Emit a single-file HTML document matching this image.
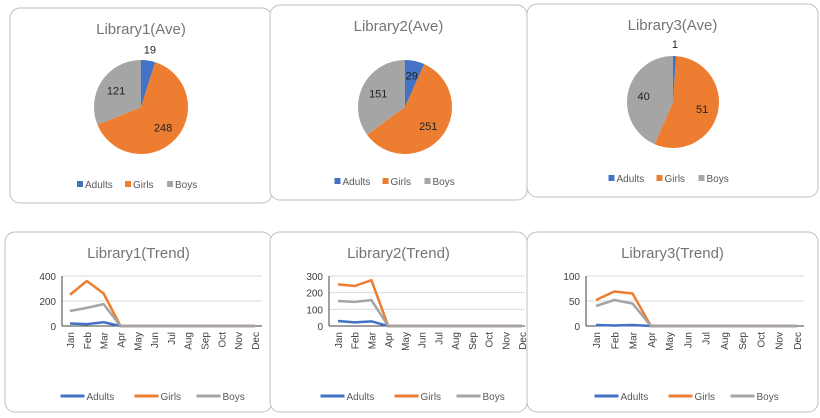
<!DOCTYPE html>
<html><head><meta charset="utf-8"><style>
body{margin:0;width:820px;height:418px;background:#fff;overflow:hidden;font-family:"Liberation Sans",Arial,sans-serif}
svg{position:absolute;left:0;top:0}
</style></head><body>
<svg id="s" width="820" height="418"></svg>
<script>
const pieCats=["Adults","Girls","Boys"];
const pie1=[19,248,121];
const pie2=[29,251,151];
const pie3=[1,51,40];
const months=["Jan","Feb","Mar","Apr","May","Jun","Jul","Aug","Sep","Oct","Nov","Dec"];
const l1Adults=[20,15,30,0,0,0,0,0,0,0,0,0];
const l1Girls=[250,360,260,0,0,0,0,0,0,0,0,0];
const l1Boys=[120,145,175,0,0,0,0,0,0,0,0,0];
const l2Adults=[30,22,28,0,0,0,0,0,0,0,0,0];
const l2Girls=[250,240,275,0,0,0,0,0,0,0,0,0];
const l2Boys=[150,145,155,0,0,0,0,0,0,0,0,0];
const l3Adults=[2,1,2,0,0,0,0,0,0,0,0,0];
const l3Girls=[52,69,65,0,0,0,0,0,0,0,0,0];
const l3Boys=[40,52,45,0,0,0,0,0,0,0,0,0];
const ticks1=[0,200,400],ticks2=[0,100,200,300],ticks3=[0,50,100];
const colors=["#4472c4","#ed7d31","#a5a5a5"];
const S=document.getElementById('s'),NS="http://www.w3.org/2000/svg";
function el(t,a,p){const e=document.createElementNS(NS,t);for(const k in a)e.setAttribute(k,a[k]);(p||S).appendChild(e);return e;}
function txt(x,y,s,a,p){const e=el('text',Object.assign({x:x,y:y},a),p);e.textContent=s;return e;}
function card(x,y,w,h,name){const g=el('g',{});
 el('rect',{x:x,y:y,width:w,height:h,rx:10,fill:'#fff',stroke:'#bfbfbf','stroke-width':1},g);return g;}
function pie(x,y,w,h,title,vals,cx,cy,r,labs){
 const g=card(x,y,w,h,title.toLowerCase().replace(/[()]/g,'-')+'chart');
 const t=txt(x+w/2,y+26,title,{'font-size':15,fill:'#757575','text-anchor':'middle'},g);
 const tot=vals.reduce((a,b)=>a+b,0);let a0=-Math.PI/2;
 vals.forEach((v,i)=>{const a1=a0+v/tot*2*Math.PI;
  const p=el('path',{d:`M${cx},${cy}L${cx+r*Math.cos(a0)},${cy+r*Math.sin(a0)}A${r},${r} 0 ${a1-a0>Math.PI?1:0} 1 ${cx+r*Math.cos(a1)},${cy+r*Math.sin(a1)}Z`,fill:colors[i]},g);
  
  const am=(a0+a1)/2,rr=labs[i];
  const l=txt(cx+rr*Math.cos(am),cy+rr*Math.sin(am)+4,String(v),{'font-size':11,fill:'#222','text-anchor':'middle'},g);
  
  a0=a1;});
 legend(g,x+w/2,y+h-18,false);
}
function legend(g,cx,ly,line){
 const widths=line?[64,52,52]:[48,42,38];const tw=widths.reduce((a,b)=>a+b,0)+ (line?0:0);
 let lx=cx-tw/2;
 pieCats.forEach((c,i)=>{const lg=el('g',{},g);
  if(line){el('line',{x1:lx,y1:ly,x2:lx+24,y2:ly,stroke:colors[i],'stroke-width':3},lg);txt(lx+26,ly+4,c,{'font-size':10,fill:'#595959'},lg);}
  else{el('rect',{x:lx,y:ly-4,width:6,height:6,fill:colors[i]},lg);txt(lx+8,ly+3,c,{'font-size':10,fill:'#595959'},lg);}
  lx+=widths[i]+(line?10:0);});
}
function trend(x,y,w,h,title,series,ticks,ax0,ax1,j0,j1,ymax){
 const g=card(x,y,w,h,title.toLowerCase().replace(/[()]/g,'-')+'chart');
 const t=txt(x+w/2,y+26,title,{'font-size':15,fill:'#757575','text-anchor':'middle'},g);
 const y0=326,y1=276;const sy=v=>y0-(v/ymax)*(y0-y1);const sx=i=>j0+i*(j1-j0)/11;
 ticks.forEach(v=>{if(v>0)el('line',{x1:ax0,y1:sy(v),x2:ax1,y2:sy(v),stroke:'#d9d9d9'},g);
  const l=txt(ax0-6,sy(v)+4,String(v),{'font-size':10,fill:'#404040','text-anchor':'end'},g);});
 el('line',{x1:ax0,y1:y1,x2:ax0,y2:y0,stroke:'#404040'},g);
 el('line',{x1:ax0,y1:y0,x2:ax1,y2:y0,stroke:'#404040'},g);
 months.forEach((m,i)=>{const l=txt(0,0,m,{'font-size':10,fill:'#404040','text-anchor':'end',transform:`translate(${sx(i)+4},${y0+6}) rotate(-90)`},g);});
 series.forEach((s,k)=>{const p=el('polyline',{points:s.map((v,i)=>sx(i)+','+sy(v)).join(' '),fill:'none',stroke:colors[k],'stroke-width':2.5,'stroke-linejoin':'round'},g);
  });
 legend(g,x+w/2+6,y+164,true);
}
pie(10,8,262,195,"Library1(Ave)",pie1,141,107,47,[58,30,30]);
pie(270,5,257,195,"Library2(Ave)",pie2,405,107,47,[32,30,30]);
pie(527,4,291,193,"Library3(Ave)",pie3,673,102,46,[58,30,30]);
trend(5,232,267,180,"Library1(Trend)",[l1Adults,l1Girls,l1Boys],ticks1,62,262,70,255,400);
trend(270,232,257,180,"Library2(Trend)",[l2Adults,l2Girls,l2Boys],ticks2,329,525,338,522,300);
trend(527,232,291,180,"Library3(Trend)",[l3Adults,l3Girls,l3Boys],ticks3,586,804,596,797,100);
</script></body></html>
